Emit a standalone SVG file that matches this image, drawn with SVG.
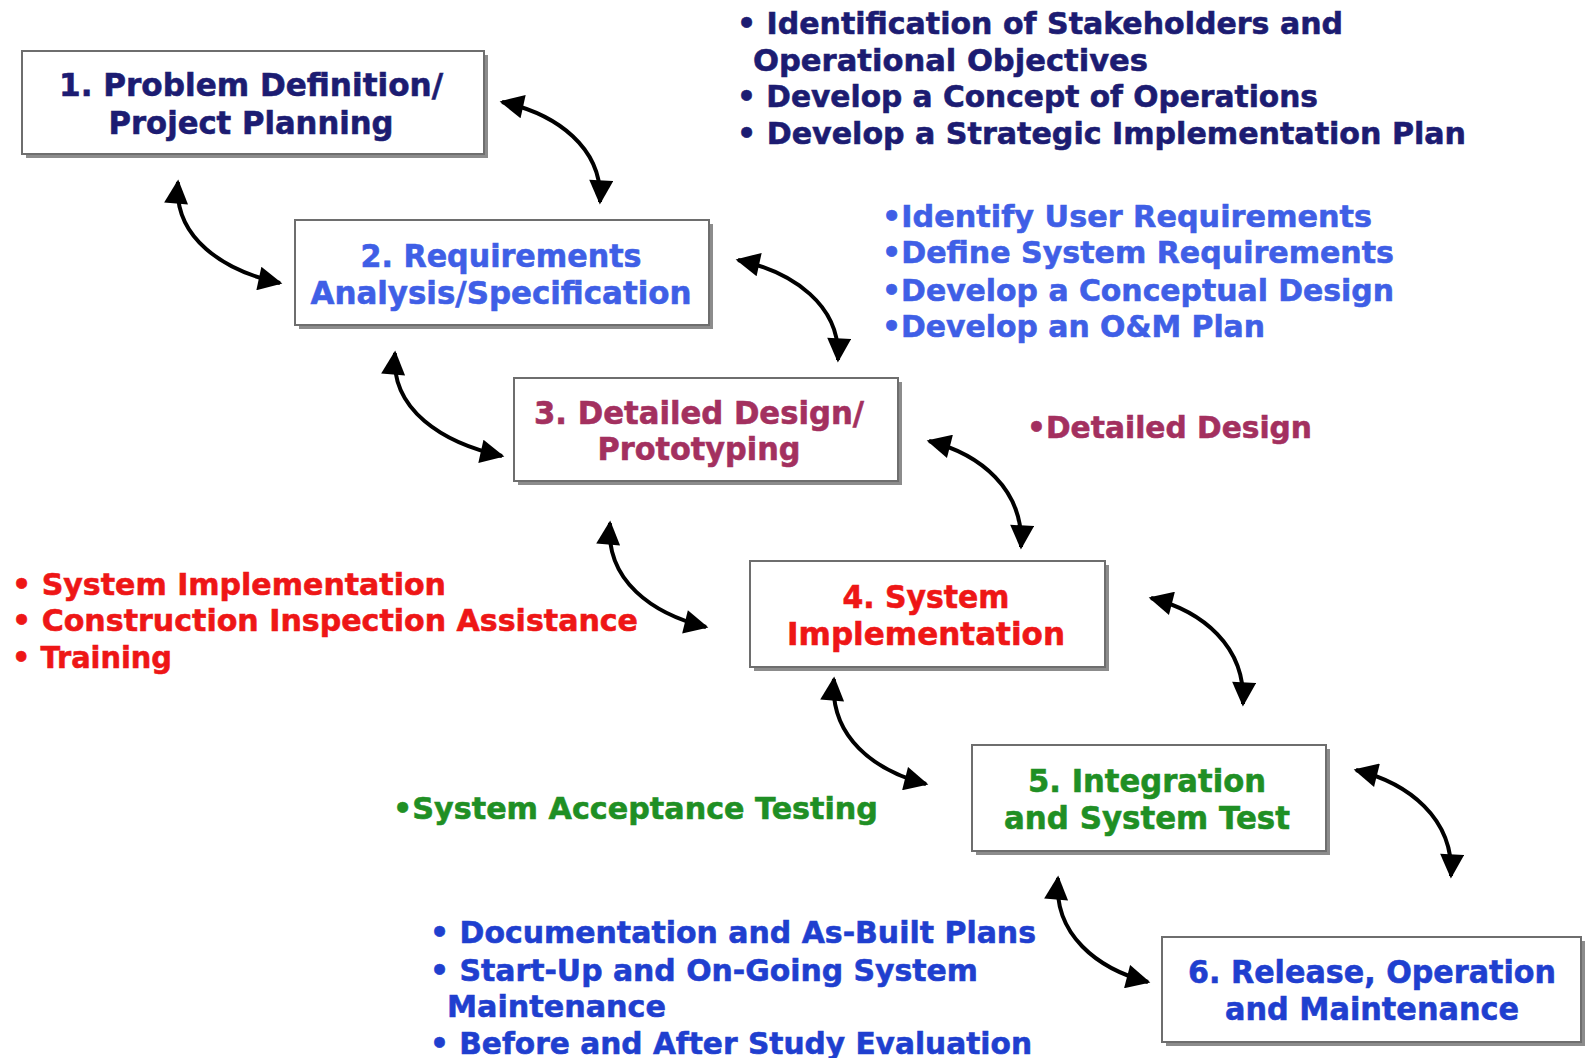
<svg xmlns="http://www.w3.org/2000/svg" width="1589" height="1058" viewBox="0 0 1589 1058">
<defs>
<marker id="ah" viewBox="0 0 10 10" refX="9" refY="5" markerUnits="userSpaceOnUse" markerWidth="27" markerHeight="24" orient="auto-start-reverse">
<path d="M0,0 L10,5 L0,10 z" fill="#000"/>
</marker>
<style>
.sh{fill:#8c8c8c}
.bx{fill:#fff;stroke:#6e6e6e;stroke-width:2}
.t{font-family:"DejaVu Sans","Liberation Sans",sans-serif;font-weight:bold;font-size:32px;stroke-width:0.6}
.l{font-family:"DejaVu Sans","Liberation Sans",sans-serif;font-weight:bold;font-size:31px;stroke-width:0.6}
.c{text-anchor:middle}
.navy{fill:#1c1c72;stroke:#1c1c72}
.blue{fill:#3f5fe6;stroke:#3f5fe6}
.mar{fill:#a3305f;stroke:#a3305f}
.red{fill:#ee1616;stroke:#ee1616}
.grn{fill:#1f8f24;stroke:#1f8f24}
.dblue{fill:#1f3fcf;stroke:#1f3fcf}
.ar{fill:none;stroke:#000;stroke-width:4;marker-start:url(#ah);marker-end:url(#ah)}
</style>
</defs>
<rect width="1589" height="1058" fill="#fff"/>

<g id="node1">
<rect class="sh" x="26" y="55" width="462" height="103"/>
<rect class="bx" x="22" y="51" width="462" height="103"/>
<text class="t c navy" x="251" y="96" textLength="384" lengthAdjust="spacingAndGlyphs">1. Problem Definition/</text>
<text class="t c navy" x="251" y="134" textLength="285" lengthAdjust="spacingAndGlyphs">Project Planning</text>
</g>

<g id="node2">
<rect class="sh" x="299" y="224" width="414" height="105"/>
<rect class="bx" x="295" y="220" width="414" height="105"/>
<text class="t c blue" x="501" y="267" textLength="281" lengthAdjust="spacingAndGlyphs">2. Requirements</text>
<text class="t c blue" x="501" y="304" textLength="381" lengthAdjust="spacingAndGlyphs">Analysis/Specification</text>
</g>

<g id="node3">
<rect class="sh" x="518" y="382" width="384" height="103"/>
<rect class="bx" x="514" y="378" width="384" height="103"/>
<text class="t c mar" x="699" y="424" textLength="330" lengthAdjust="spacingAndGlyphs">3. Detailed Design/</text>
<text class="t c mar" x="699" y="460" textLength="203" lengthAdjust="spacingAndGlyphs">Prototyping</text>
</g>

<g id="node4">
<rect class="sh" x="754" y="565" width="355" height="106"/>
<rect class="bx" x="750" y="561" width="355" height="106"/>
<text class="t c red" x="926" y="608" textLength="167" lengthAdjust="spacingAndGlyphs">4. System</text>
<text class="t c red" x="926" y="645" textLength="278" lengthAdjust="spacingAndGlyphs">Implementation</text>
</g>

<g id="node5">
<rect class="sh" x="976" y="749" width="354" height="106"/>
<rect class="bx" x="972" y="745" width="354" height="106"/>
<text class="t c grn" x="1147" y="792" textLength="238" lengthAdjust="spacingAndGlyphs">5. Integration</text>
<text class="t c grn" x="1147" y="829" textLength="286" lengthAdjust="spacingAndGlyphs">and System Test</text>
</g>

<g id="node6">
<rect class="sh" x="1166" y="941" width="419" height="105"/>
<rect class="bx" x="1162" y="937" width="419" height="105"/>
<text class="t c dblue" x="1372" y="983" textLength="368" lengthAdjust="spacingAndGlyphs">6. Release, Operation</text>
<text class="t c dblue" x="1372" y="1020" textLength="294" lengthAdjust="spacingAndGlyphs">and Maintenance</text>
</g>

<g id="notes1">
<text class="l navy" x="737" y="34" textLength="606" lengthAdjust="spacingAndGlyphs">• Identification of Stakeholders and</text>
<text class="l navy" x="753" y="71" textLength="395" lengthAdjust="spacingAndGlyphs">Operational Objectives</text>
<text class="l navy" x="737" y="107" textLength="581" lengthAdjust="spacingAndGlyphs">• Develop a Concept of Operations</text>
<text class="l navy" x="737" y="144" textLength="729" lengthAdjust="spacingAndGlyphs">• Develop a Strategic Implementation Plan</text>
</g>

<g id="notes2">
<text class="l blue" x="882" y="227" textLength="490" lengthAdjust="spacingAndGlyphs">•Identify User Requirements</text>
<text class="l blue" x="882" y="263" textLength="512" lengthAdjust="spacingAndGlyphs">•Define System Requirements</text>
<text class="l blue" x="882" y="301" textLength="512" lengthAdjust="spacingAndGlyphs">•Develop a Conceptual Design</text>
<text class="l blue" x="882" y="337" textLength="383" lengthAdjust="spacingAndGlyphs">•Develop an O&amp;M Plan</text>
</g>

<g id="notes3">
<text class="l mar" x="1027" y="438" textLength="285" lengthAdjust="spacingAndGlyphs">•Detailed Design</text>
</g>

<g id="notes4">
<text class="l red" x="12" y="595" textLength="434" lengthAdjust="spacingAndGlyphs">• System Implementation</text>
<text class="l red" x="12" y="631" textLength="626" lengthAdjust="spacingAndGlyphs">• Construction Inspection Assistance</text>
<text class="l red" x="12" y="668" textLength="160" lengthAdjust="spacingAndGlyphs">• Training</text>
</g>

<g id="notes5">
<text class="l grn" x="393" y="819" textLength="485" lengthAdjust="spacingAndGlyphs">•System Acceptance Testing</text>
</g>

<g id="notes6">
<text class="l dblue" x="430" y="943" textLength="606" lengthAdjust="spacingAndGlyphs">• Documentation and As-Built Plans</text>
<text class="l dblue" x="430" y="981" textLength="548" lengthAdjust="spacingAndGlyphs">• Start-Up and On-Going System</text>
<text class="l dblue" x="447" y="1017" textLength="219" lengthAdjust="spacingAndGlyphs">Maintenance</text>
<text class="l dblue" x="430" y="1054" textLength="602" lengthAdjust="spacingAndGlyphs">• Before and After Study Evaluation</text>
</g>

<g id="connectors">
<path class="ar" d="M502,102 C557,114 603,148 600,202"/>
<path class="ar" d="M178,182 C173,238 224,271 280,283"/>
<path class="ar" d="M738,260 C793,272 841,305 838,360"/>
<path class="ar" d="M395,353 C390,410 443,443 502,456"/>
<path class="ar" d="M929,441 C980,454 1024,489 1021,547"/>
<path class="ar" d="M610,523 C605,581 653,614 706,627"/>
<path class="ar" d="M1151,598 C1202,611 1246,646 1243,704"/>
<path class="ar" d="M834,679 C829,737 875,771 926,784"/>
<path class="ar" d="M1356,770 C1408,783 1454,818 1451,876"/>
<path class="ar" d="M1058,878 C1053,935 1098,969 1148,982"/>
</g>
</svg>
